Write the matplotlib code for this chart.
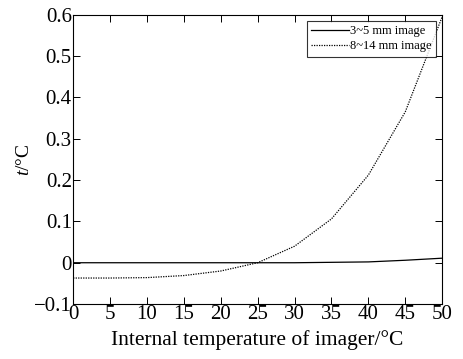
import matplotlib
matplotlib.use("Agg")
import matplotlib.pyplot as plt

temps = [0, 5, 10, 15, 20, 25, 30, 35, 40, 45, 50]
band_35 = [0.0, 0.0, 0.0, 0.0, 0.0, 0.0, 0.0, 0.001, 0.002, 0.006, 0.011]
band_814 = [-0.037, -0.037, -0.036, -0.031, -0.020, 0.0, 0.040, 0.106, 0.212, 0.365, 0.595]

xticks = [0, 5, 10, 15, 20, 25, 30, 35, 40, 45, 50]
yticks = [-0.1, 0, 0.1, 0.2, 0.3, 0.4, 0.5, 0.6]
yticklabels = ["\u22120.1", "0", "0.1", "0.2", "0.3", "0.4", "0.5", "0.6"]

plt.rcParams['font.family'] = ['Liberation Serif', 'DejaVu Serif']
plt.rcParams['mathtext.fontset'] = 'custom'
plt.rcParams['mathtext.it'] = 'Liberation Serif:italic'
plt.rcParams['mathtext.rm'] = 'Liberation Serif'

fig = plt.figure(figsize=(4.63, 3.59), dpi=100)
ax = fig.add_axes([0.158, 0.153, 0.797, 0.806])

ax.plot(temps, band_35, color='black', linewidth=0.9, label='3~5 mm image')
ax.plot(temps, band_814, color='black', linewidth=0.9, linestyle=(0, (1, 1)), label='8~14 mm image')

ax.set_xlim(0, 50)
ax.set_ylim(-0.1, 0.6)
ax.set_xticks(xticks)
ax.set_xticklabels([str(t) for t in xticks])
ax.set_yticks(yticks)
ax.set_yticklabels(yticklabels)
ax.tick_params(direction='in', top=True, right=True, labelsize=15, length=5, width=0.7)
ax.tick_params(axis='x', pad=1)
ax.tick_params(axis='y', pad=1)
for s in ax.spines.values():
    s.set_linewidth(0.8)

ax.set_xlabel('Internal temperature of imager/\u00b0C', fontsize=15.5, labelpad=4)
ax.set_ylabel('$t$/\u00b0C', fontsize=14, labelpad=1)

leg = ax.legend(loc='upper right', fontsize=9, frameon=True, fancybox=False,
                edgecolor='black', handlelength=3.0, handletextpad=0.1,
                borderpad=0.35, labelspacing=0.25, borderaxespad=0.5)
leg.get_frame().set_linewidth(0.8)

fig.savefig('out.png', dpi=100)
